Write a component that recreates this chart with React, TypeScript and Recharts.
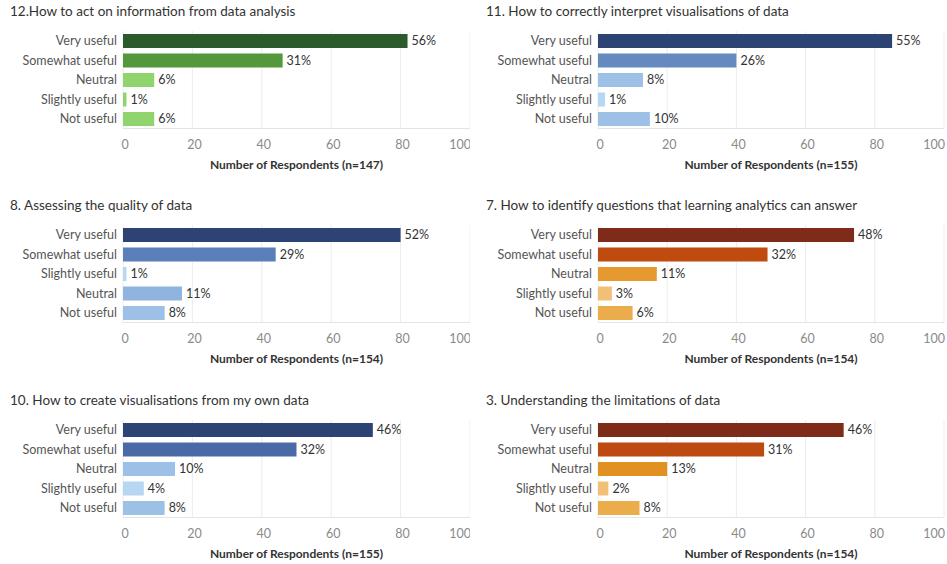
import React from "react";
import { BarChart, Bar, XAxis, YAxis, CartesianGrid, Cell, LabelList } from "recharts";

// category orders (Q8 lists "Slightly useful" before "Neutral")
const categoriesStd = ["Very useful", "Somewhat useful", "Neutral", "Slightly useful", "Not useful"];
const categoriesQ8 = ["Very useful", "Somewhat useful", "Slightly useful", "Neutral", "Not useful"];

// respondent counts
const q12Counts = [82, 46, 9, 1, 9];
const q11Counts = [85, 40, 13, 2, 15];
const q8Counts = [80, 44, 1, 17, 12];
const q7Counts = [74, 49, 17, 4, 10];
const q10Counts = [72, 50, 15, 6, 12];
const q3Counts = [71, 48, 20, 3, 12];

const xTicks = [0, 20, 40, 60, 80, 100];

const greens = ["#2b5b2b", "#53983b", "#8fd46d", "#8fd46d", "#8fd46d"];
const blues11 = ["#2c4373", "#658abf", "#9dc0e6", "#b7d6f2", "#9dc0e6"];
const blues8 = ["#2c4373", "#5b7fb8", "#b7d6f2", "#8fb4e0", "#9dc0e6"];
const blues10 = ["#2c4373", "#4a6aa5", "#9dc0e6", "#b7d6f2", "#9dc0e6"];
const oranges7 = ["#7f2b19", "#c04b0f", "#e5992f", "#f2bf77", "#ebac4c"];
const oranges3 = ["#7f2b19", "#bd4b11", "#e09122", "#f2bf77", "#ebac4c"];

const FONT = "Lato, 'Open Sans', sans-serif";

// last tick (100) is drawn right-aligned so it stays inside the pane
function XTick(props: any) {
  const { x, y, payload } = props;
  const last = payload.value === xTicks[xTicks.length - 1];
  return (
    <text x={last ? x + 1 : x + 2} y={y} dy="0.71em" textAnchor={last ? "end" : "middle"} fontSize={12.5} fill="#8a8a8a">
      {payload.value}
    </text>
  );
}

type PanelProps = {
  title: string;
  categories: string[];
  counts: number[];
  n: number;
  colors: string[];
  left: number;
  top: number;
  width: number;
  yAxisWidth: number;
  rightMargin: number;
};

function Panel({ title, categories, counts, n, colors, left, top, width, yAxisWidth, rightMargin }: PanelProps) {
  const data = categories.map((c, i) => ({ cat: c, count: counts[i] }));
  return (
    <div style={{ position: "absolute", left, top, width }}>
      <div style={{ position: "absolute", left: left === 0 ? 10 : 16, top: 3, fontSize: 13.5, color: "#333", fontFamily: FONT, whiteSpace: "nowrap" }}>
        {title}
      </div>
      <div style={{ position: "absolute", left: 0, top: 31 }}>
        <BarChart
          width={width}
          height={141.5}
          data={data}
          layout="vertical"
          margin={{ top: 0, right: rightMargin, bottom: 0, left: 0 }}
          style={{ fontFamily: FONT }}
        >
          <CartesianGrid horizontal={false} stroke="#ececec" />
          <XAxis
            type="number"
            domain={[0, 100]}
            ticks={xTicks}
            interval={0}
            tickLine={false}
            axisLine={{ stroke: "#e4e4e4" }}
            tickSize={6}
            tickMargin={6}
            tick={<XTick />}
            height={44}
            label={{
              value: `Number of Respondents (n=${n})`,
              position: "insideBottom",
              offset: 4,
              style: { fontSize: 12, fontWeight: 700, fill: "#333" },
            }}
          />
          <YAxis
            type="category"
            dataKey="cat"
            width={yAxisWidth}
            tickLine={false}
            axisLine={false}
            tickSize={0}
            tickMargin={6}
            tick={{ fontSize: 12.5, fill: "#555" }}
            interval={0}
          />
          <Bar dataKey="count" barSize={14} isAnimationActive={false}>
            {data.map((d, i) => (
              <Cell key={d.cat} fill={colors[i]} />
            ))}
            <LabelList
              dataKey="count"
              position="right"
              offset={4}
              formatter={(v: any) => `${Math.round((Number(v) / n) * 100)}%`}
              style={{ fontSize: 12.5, fill: "#333" }}
            />
          </Bar>
        </BarChart>
      </div>
    </div>
  );
}

export default function App() {
  const L = { left: 0, width: 470, yAxisWidth: 123, rightMargin: 0 };
  const R = { left: 470, width: 477, yAxisWidth: 128, rightMargin: 3 };
  return (
    <div style={{ position: "absolute", left: 0, top: 0, width: 947, height: 564, background: "#fff", overflow: "hidden" }}>
      <Panel {...L} top={0} title="12.How to act on information from data analysis" categories={categoriesStd} counts={q12Counts} n={147} colors={greens} />
      <Panel {...R} top={0} title="11. How to correctly interpret visualisations of data" categories={categoriesStd} counts={q11Counts} n={155} colors={blues11} />
      <Panel {...L} top={193.5} title="8. Assessing the quality of data" categories={categoriesQ8} counts={q8Counts} n={154} colors={blues8} />
      <Panel {...R} top={193.5} title="7. How to identify questions that learning analytics can answer" categories={categoriesStd} counts={q7Counts} n={154} colors={oranges7} />
      <Panel {...L} top={388.5} title="10. How to create visualisations from my own data" categories={categoriesStd} counts={q10Counts} n={155} colors={blues10} />
      <Panel {...R} top={388.5} title="3. Understanding the limitations of data" categories={categoriesStd} counts={q3Counts} n={154} colors={oranges3} />
    </div>
  );
}
